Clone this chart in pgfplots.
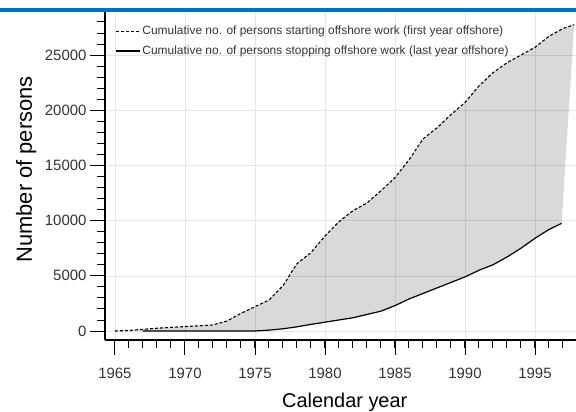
\documentclass[border=0pt]{standalone}
\usepackage{fontspec}
\setmainfont{Liberation Sans}
\usepackage{pgfplots}
\pgfplotsset{compat=1.18}
\usepgfplotslibrary{fillbetween}
\definecolor{topblue}{RGB}{0,114,188}

\pgfplotstableread{
year persons
1965 0
1966 50
1967 150
1968 250
1969 330
1970 400
1971 470
1972 550
1973 900
1974 1600
1975 2200
1976 2800
1977 4100
1978 6100
1979 7100
1980 8600
1981 9900
1982 10900
1983 11600
1984 12700
1985 13900
1986 15500
1987 17400
1988 18400
1989 19600
1990 20700
1991 22200
1992 23400
1993 24300
1994 25000
1995 25700
1996 26700
1997 27400
1997.8 27750
}\starting

\pgfplotstableread{
year persons
1967 0
1975 0
1976 80
1977 200
1978 380
1979 600
1980 800
1981 1000
1982 1200
1983 1500
1984 1800
1985 2300
1986 2900
1987 3400
1988 3900
1989 4400
1990 4900
1991 5500
1992 6000
1993 6700
1994 7500
1995 8400
1996 9200
1996.9 9750
}\stopping

\begin{document}
\begin{tikzpicture}
\begin{axis}[
    set layers,
    scale only axis,
    width=471bp, height=328bp,
    xmin=1964.29, xmax=1997.93,
    ymin=-815, ymax=28900,
    axis x line*=bottom,
    axis y line*=left,
    axis line style={black, line width=1.1bp},
    xtick={1965,1970,...,1995},
    ytick={0,5000,...,25000},
    minor xtick={1965,...,1997},
    minor ytick={1000,2000,...,28000},
    scaled y ticks=false,
    tick align=outside,
    major tick length=15bp,
    minor tick length=8bp,
    every tick/.style={black, line width=0.9bp},
    grid=major,
    major grid style={black!10, line width=0.6bp},
    /pgf/number format/assume math mode=true,
    /pgf/number format/set thousands separator={},
    every tick label/.append style={font=\fontsize{15}{15}\selectfont, text=black!80},
    xticklabel style={yshift=-10bp},
    every axis x label/.style={at={(axis description cs:0.509,0)}, yshift=-67bp, anchor=base, font=\fontsize{20}{20}\selectfont},
    every axis y label/.style={at={(axis description cs:0,0.52)}, xshift=-73bp, rotate=90, anchor=base, font=\fontsize{22}{22}\selectfont},
    xlabel={Calendar year},
    ylabel={Number of persons},
    legend style={at={(axis description cs:0,1)}, anchor=north west, xshift=7bp, yshift=-10bp,
        draw=none, fill=none, font=\fontsize{12}{14}\selectfont, text=black!80, row sep=5.5bp},
    legend cell align=left,
    legend image code/.code={\path (0bp,0bp) -- (24bp,0bp); \draw[#1] (0bp,0bp) -- (17bp,0bp);},
]
\addplot[name path=A, black, line width=1.1bp, dash pattern=on 3bp off 2bp] table[x=year, y=persons] {\starting};
\addlegendentry{Cumulative no. of persons starting offshore work (first year offshore)}
\addplot[name path=B, black, line width=1.2bp] table[x=year, y=persons] {\stopping};
\addlegendentry{Cumulative no. of persons stopping offshore work (last year offshore)}
\addplot[fill=black, fill opacity=0.15, draw=none] fill between[of=A and B];
\end{axis}
\pgfresetboundingbox
\path[use as bounding box] (-105bp,-72bp) rectangle (471bp,340bp);
\fill[topblue] (-105bp,328.3bp) rectangle (471bp,331.8bp);
\end{tikzpicture}
\end{document}
